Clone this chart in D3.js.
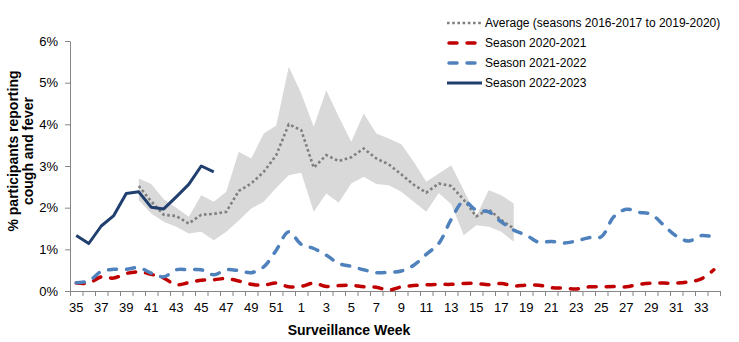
<!DOCTYPE html>
<html>
<head>
<meta charset="utf-8">
<script src="https://cdn.jsdelivr.net/npm/d3@7"></script>
<style>
  body { margin: 0; background: #fff; }
  text { font-family: "Liberation Sans", Arial, sans-serif; fill: #000; }
</style>
</head>
<body>
<div id="chart"></div>
<script>
// surveillance weeks, season runs week 35 -> week 34
const weeks = [35,36,37,38,39,40,41,42,43,44,45,46,47,48,49,50,51,52,
  1,2,3,4,5,6,7,8,9,10,11,12,13,14,15,16,17,18,19,20,21,22,23,24,25,26,27,28,29,30,31,32,33,34];

// values in %
const season2020 = [0.19,0.19,0.34,0.31,0.42,0.46,0.40,0.31,0.15,0.20,0.26,0.27,0.30,0.24,0.16,0.14,0.19,0.10,
  0.11,0.19,0.11,0.13,0.14,0.10,0.09,0.02,0.10,0.13,0.15,0.16,0.16,0.18,0.18,0.15,0.18,0.12,0.14,0.14,0.08,0.07,
  0.05,0.10,0.10,0.11,0.10,0.16,0.19,0.19,0.19,0.22,0.29,0.51];

const season2021 = [0.20,0.24,0.47,0.52,0.52,0.56,0.43,0.34,0.51,0.51,0.51,0.39,0.51,0.49,0.44,0.58,0.98,1.42,
  1.12,1.02,0.86,0.66,0.59,0.51,0.44,0.45,0.48,0.62,0.88,1.14,1.72,2.15,1.94,1.90,1.66,1.46,1.34,1.17,1.19,1.15,
  1.20,1.28,1.30,1.78,1.96,1.89,1.84,1.58,1.32,1.20,1.33,1.30];

const season2022 = [1.33,1.14,1.56,1.81,2.34,2.38,2.01,1.97,2.26,2.56,3.00,2.86];

// average of seasons 2016-2017 to 2019-2020, with min/max band (weeks 40 -> 18)
const avgStart = 5;
const avgValues = [2.52,2.15,1.83,1.80,1.62,1.83,1.85,1.90,2.40,2.58,2.86,3.26,4.00,3.86,2.96,3.26,3.12,3.21,
  3.42,3.18,3.04,2.80,2.55,2.36,2.58,2.52,2.19,1.79,1.96,1.70,1.50];
const avgHigh = [2.70,2.57,2.20,2.00,1.78,2.30,2.14,2.38,3.34,3.18,3.78,3.97,5.38,4.74,3.94,4.82,4.18,3.58,
  4.26,3.78,3.66,3.52,3.10,2.62,2.82,3.02,2.42,1.80,2.42,2.30,2.10];
const avgLow = [2.18,1.86,1.66,1.54,1.38,1.42,1.22,1.42,1.69,1.98,2.14,2.48,2.78,2.84,1.90,2.34,2.12,2.58,
  2.74,2.57,2.54,2.38,2.14,1.90,2.35,2.08,1.34,1.58,1.54,1.42,1.18];

const yTicks = [0,1,2,3,4,5,6];

const width = 739, height = 342;
const plotLeft = 70, plotRight = 720, plotTop = 41, plotBottom = 291;

const svg = d3.select("#chart").append("svg")
  .attr("width", width)
  .attr("height", height);

svg.append("rect").attr("width", width).attr("height", height).attr("fill", "#fff");

const x = d3.scaleBand().domain(d3.range(weeks.length)).range([plotLeft, plotRight]);
const xEdge = d3.scaleLinear().domain([0, weeks.length]).range([plotLeft, plotRight]);
const y = d3.scaleLinear().domain([0, 6]).range([plotBottom, plotTop]);
const xc = i => x(i) + x.bandwidth() / 2;

const toPoints = (arr, start) => arr.map((v, k) => ({i: k + (start || 0), v: v}));

// grey min/max band
const band = avgValues.map((v, k) => ({i: k + avgStart, lo: avgLow[k], hi: avgHigh[k]}));
svg.append("path")
  .datum(band)
  .attr("fill", "#d9d9d9")
  .attr("d", d3.area().x(d => xc(d.i)).y0(d => y(d.lo)).y1(d => y(d.hi)));

// axes
const axisColor = "#868686";
const yAxis = svg.append("g")
  .attr("transform", `translate(${plotLeft},0)`)
  .call(d3.axisLeft(y).tickValues(yTicks).tickFormat(d => d + "%").tickSize(5).tickSizeOuter(0).tickPadding(7));
yAxis.selectAll("path,line").attr("stroke", axisColor);
yAxis.selectAll("text").attr("font-size", 13).attr("font-family", "Liberation Sans, Arial, sans-serif");

const xTicks = svg.append("g")
  .attr("transform", `translate(0,${plotBottom})`)
  .call(d3.axisBottom(xEdge).tickValues(d3.range(weeks.length + 1)).tickFormat("").tickSize(5).tickSizeOuter(0));
xTicks.selectAll("path,line").attr("stroke", axisColor);

const xLabels = svg.append("g")
  .attr("transform", `translate(0,${plotBottom})`)
  .call(d3.axisBottom(x).tickSize(0).tickPadding(12)
    .tickFormat(i => i % 2 === 0 ? weeks[i] : ""));
xLabels.select(".domain").remove();
xLabels.selectAll("text").attr("font-size", 13).attr("font-family", "Liberation Sans, Arial, sans-serif");

// series
const lineLinear = d3.line().x(d => xc(d.i)).y(d => y(d.v));
const lineSmooth = d3.line().x(d => xc(d.i)).y(d => y(d.v)).curve(d3.curveCatmullRom.alpha(0.5));

svg.append("path")
  .datum(toPoints(avgValues, avgStart))
  .attr("fill", "none")
  .attr("stroke", "#7f7f7f")
  .attr("stroke-width", 2.6)
  .attr("stroke-dasharray", "2.6,2.6")
  .attr("d", lineLinear);

svg.append("path")
  .datum(toPoints(season2020))
  .attr("fill", "none")
  .attr("stroke", "#c00000")
  .attr("stroke-width", 3.5)
  .attr("stroke-linecap", "round")
  .attr("stroke-dasharray", "8,10")
  .attr("d", lineSmooth);

svg.append("path")
  .datum(toPoints(season2021))
  .attr("fill", "none")
  .attr("stroke", "#4f81bd")
  .attr("stroke-width", 3.5)
  .attr("stroke-linecap", "round")
  .attr("stroke-dasharray", "8,10")
  .attr("d", lineSmooth);

svg.append("path")
  .datum(toPoints(season2022))
  .attr("fill", "none")
  .attr("stroke", "#203f6f")
  .attr("stroke-width", 3)
  .attr("stroke-linejoin", "round")
  .attr("d", lineLinear);

// axis titles
svg.append("text")
  .attr("x", 349)
  .attr("y", 335)
  .attr("text-anchor", "middle")
  .attr("font-size", 14)
  .attr("font-weight", "bold")
  .text("Surveillance Week");

const yTitle = svg.append("text")
  .attr("transform", "translate(18,151) rotate(-90)")
  .attr("text-anchor", "middle")
  .attr("font-size", 14)
  .attr("font-weight", "bold");
yTitle.append("tspan").attr("x", 0).attr("dy", 0).text("% participants reporting");
yTitle.append("tspan").attr("x", 0).attr("dy", 15).text("cough and fever");

// legend
const legendItems = [
  {label: "Average (seasons 2016-2017 to 2019-2020)", color: "#7f7f7f", w: 2.6, dash: "2.6,2.6", cap: "butt"},
  {label: "Season 2020-2021", color: "#c00000", w: 3.5, dash: "8,10", cap: "round"},
  {label: "Season 2021-2022", color: "#4f81bd", w: 3.5, dash: "8,10", cap: "round"},
  {label: "Season 2022-2023", color: "#203f6f", w: 3, dash: null, cap: "butt"}
];
const legend = svg.append("g").attr("transform", "translate(447,23)");
legendItems.forEach((d, k) => {
  const g = legend.append("g").attr("transform", `translate(0,${k * 20})`);
  g.append("line")
    .attr("x1", d.cap === "round" ? 2 : 0).attr("x2", d.cap === "round" ? 32 : 35)
    .attr("stroke", d.color)
    .attr("stroke-width", d.w)
    .attr("stroke-linecap", d.cap)
    .attr("stroke-dasharray", d.dash);
  g.append("text")
    .attr("x", 38)
    .attr("dy", "0.35em")
    .attr("font-size", 12)
    .text(d.label);
});
</script>
</body>
</html>
